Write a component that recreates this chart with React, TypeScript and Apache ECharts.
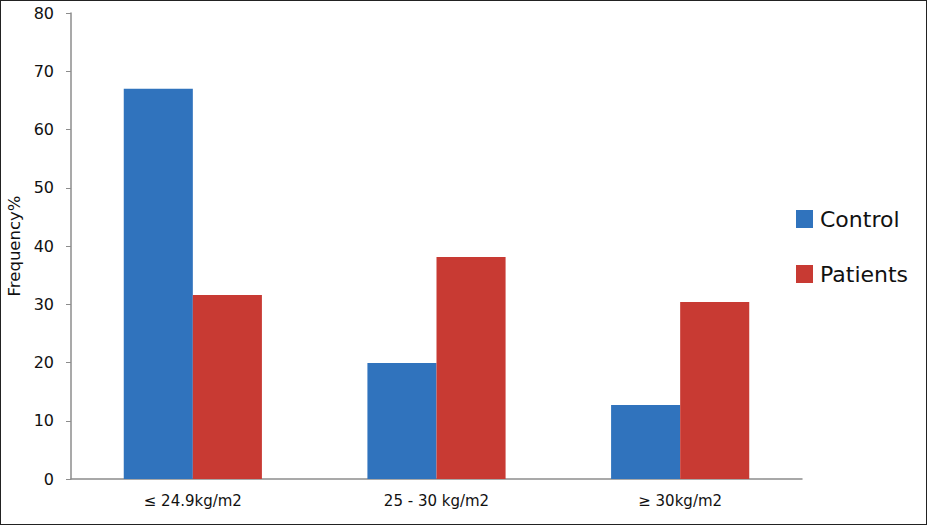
import React, { useEffect, useRef } from "react";
import * as echarts from "echarts";

const categories = ["≤ 24.9kg/m2", "25 - 30 kg/m2", "≥ 30kg/m2"];
const controlValues = [67, 19.9, 12.7];
const patientValues = [31.6, 38.1, 30.4];
const seriesNames = ["Control", "Patients"];
const yTicks = { min: 0, max: 80, interval: 10 };

export default function App() {
  const ref = useRef<HTMLDivElement>(null);
  useEffect(() => {
    document.body.style.margin = "0";
    const chart = echarts.init(ref.current!, null, { renderer: "svg" });
    const font = "'DejaVu Sans', Verdana, sans-serif";
    chart.setOption({
      animation: false,
      backgroundColor: "#ffffff",
      grid: {
        left: 70,
        top: 12,
        right: 124,
        bottom: 45,
        containLabel: false,
        outerBoundsMode: "none",
      },
      legend: {
        orient: "vertical",
        left: 790,
        top: 202,
        itemWidth: 17,
        itemHeight: 18,
        itemGap: 33,
        icon: "rect",
        data: seriesNames,
        textStyle: { fontSize: 22, color: "#111", fontFamily: font, padding: [0, 0, 0, 2] },
      },
      xAxis: {
        type: "category",
        data: categories,
        axisLine: { lineStyle: { color: "#8c8c8c", width: 1.5 } },
        axisTick: { show: false },
        axisLabel: { color: "#111", fontSize: 15, margin: 14, fontFamily: font },
      },
      yAxis: {
        type: "value",
        min: yTicks.min,
        max: yTicks.max,
        interval: yTicks.interval,
        name: "Frequency%",
        nameLocation: "middle",
        nameGap: 47,
        nameRotate: 90,
        nameTextStyle: { fontSize: 16.5, color: "#111", fontFamily: font },
        axisLine: { show: true, lineStyle: { color: "#8c8c8c", width: 1.5 } },
        axisTick: { show: true, length: 5, lineStyle: { color: "#8c8c8c" } },
        splitLine: { show: false },
        axisLabel: { color: "#111", fontSize: 16, margin: 17, fontFamily: font },
      },
      series: [
        {
          name: seriesNames[0],
          type: "bar",
          data: controlValues,
          itemStyle: { color: "#3073bd" },
          barGap: "0%",
          barCategoryGap: "43.3%",
        },
        {
          name: seriesNames[1],
          type: "bar",
          data: patientValues,
          itemStyle: { color: "#c83a33" },
          barGap: "0%",
          barCategoryGap: "43.3%",
        },
      ],
    });
    return () => chart.dispose();
  }, []);
  return (
    <div
      style={{
        position: "absolute",
        left: 0,
        top: 0,
        width: 927,
        height: 525,
        boxSizing: "border-box",
        border: "1px solid #222",
        background: "#fff",
      }}
    >
      <div ref={ref} style={{ width: 925, height: 523 }} />
    </div>
  );
}
